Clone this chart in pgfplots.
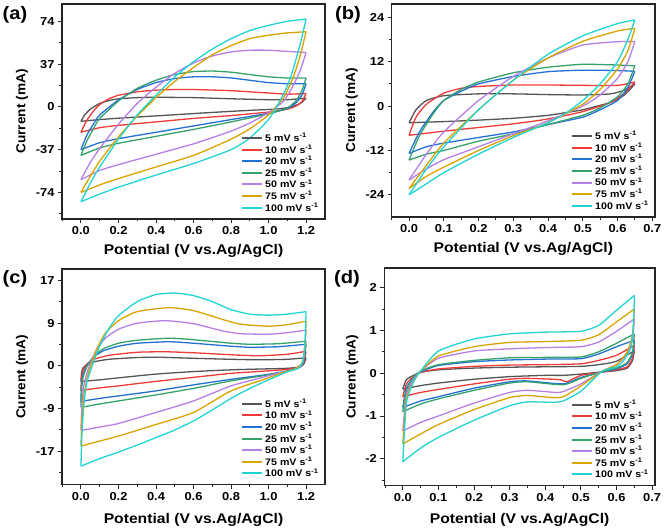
\documentclass[border=0pt]{standalone}
\usepackage{fontspec}
\setmainfont{Liberation Sans}[FakeStretch=1.12]
\newfontfamily\ylfont{Liberation Sans}[FakeStretch=1.05]
\usepackage{pgfplots}
\pgfplotsset{compat=1.18}
\definecolor{c5}{HTML}{555555}
\definecolor{c10}{HTML}{F03A3A}
\definecolor{c20}{HTML}{2470D4}
\definecolor{c25}{HTML}{35A26C}
\definecolor{c50}{HTML}{B57FE6}
\definecolor{c75}{HTML}{D9A300}
\definecolor{c100}{HTML}{22D3D3}

\pgfplotsset{
  cv/.style={
    scale only axis, anchor=north west,
    axis line style={line width=1.1pt, black!85},
    tick style={line width=0.9pt, black!85},
    major tick length=4pt, minor tick length=2.5pt,
    tick align=outside, xtick pos=bottom, ytick pos=left,
    ticklabel style={font=\fontsize{11.5}{13}\selectfont\bfseries},
    /pgf/number format/assume math mode=true,
    xticklabel style={/pgf/number format/.cd, fixed, fixed zerofill, precision=1},
    xlabel={Potential (V vs.Ag/AgCl)},
    ylabel={Current (mA)},
    every axis x label/.style={at={(rel axis cs:0.5,0)}, anchor=center, yshift=-32pt,
      font=\fontsize{14}{16}\selectfont\bfseries},
    every axis y label/.style={at={(rel axis cs:0,0.5)}, xshift=-40pt, rotate=90, anchor=center,
      font=\ylfont\fontsize{13}{14}\selectfont\bfseries},
    legend style={draw=none, fill=none, font=\fontsize{9.5}{10.5}\selectfont\bfseries,
      row sep=-2.3pt, anchor=south east, at={(0.995,0.01)}},
    legend cell align=left,
    legend image code/.code={\draw[line width=2pt] (0pt,0pt) -- (20pt,0pt);},
    every axis plot/.append style={line width=1.3pt, smooth, tension=0.35},
  },
}

\begin{document}
\begin{tikzpicture}
\path[use as bounding box] (0,0) rectangle (665pt,528pt);

% ---------------- (a)
\begin{axis}[cv, at={(62pt,524pt)}, width=263pt, height=215pt,
  xmin=-0.101, xmax=1.301, ymin=-97, ymax=89,
  xtick={0,0.2,0.4,0.6,0.8,1.0,1.2}, minor xtick={-0.1,0.1,0.3,0.5,0.7,0.9,1.1},
  ytick={-74,-37,0,37,74}, minor ytick={-92.5,-55.5,-18.5,18.5,55.5}]
\addplot[c5] coordinates {(0,-12.5) (0.02,-7) (0.05,-2) (0.1,3) (0.15,5.5) (0.2,7) (0.3,8) (0.4,8.3) (0.6,8) (0.8,7) (1.0,6.2) (1.1,6.2) (1.2,7.5)};
\addplot[c5, forget plot] coordinates {(1.2,7.5) (1.17,3) (1.12,0) (1.05,-1.8) (0.9,-3) (0.7,-4.8) (0.5,-6.8) (0.3,-8.8) (0.2,-9.8) (0.1,-11) (0,-12.5)};
\addplot[c10] coordinates {(0,-22) (0.03,-12) (0.07,-3) (0.1,2) (0.15,7) (0.2,10) (0.3,13) (0.4,14.5) (0.5,15) (0.6,15) (0.8,14) (1.0,12) (1.1,11) (1.2,11.5)};
\addplot[c10, forget plot] coordinates {(1.2,11.5) (1.18,5) (1.15,1) (1.1,-2) (1.0,-4.5) (0.8,-7.5) (0.6,-10) (0.4,-13) (0.2,-16) (0.1,-18) (0,-22)};
\addplot[c20] coordinates {(0,-37) (0.03,-25) (0.07,-14) (0.1,-7) (0.2,6) (0.3,15) (0.4,21) (0.5,24.5) (0.6,26) (0.7,26) (0.8,25) (0.9,23) (1.0,21) (1.1,20) (1.2,20)};
\addplot[c20, forget plot] coordinates {(1.2,20) (1.18,11) (1.15,4) (1.1,-1.5) (1.0,-5.5) (0.8,-11) (0.6,-16.5) (0.4,-22) (0.2,-27.5) (0.1,-31) (0,-37)};
\addplot[c25] coordinates {(0,-42) (0.03,-30) (0.07,-18) (0.1,-10) (0.2,5) (0.3,16) (0.4,23) (0.5,28) (0.6,30.5) (0.7,31) (0.8,30) (0.9,28) (1.0,26) (1.1,25) (1.2,25)};
\addplot[c25, forget plot] coordinates {(1.2,25) (1.18,15) (1.15,6) (1.1,-1) (1.0,-6) (0.8,-13) (0.6,-19.5) (0.4,-25.5) (0.2,-31.5) (0.1,-35.5) (0,-42)};
\addplot[c50] coordinates {(0,-63) (0.05,-48) (0.1,-36) (0.2,-15) (0.3,3) (0.4,17) (0.5,29) (0.6,38) (0.7,44) (0.8,47.5) (0.9,49) (1.0,49) (1.1,48) (1.2,47)};
\addplot[c50, forget plot] coordinates {(1.2,47) (1.17,32) (1.13,18) (1.08,5) (1.0,-5) (0.9,-14) (0.8,-21) (0.6,-32) (0.4,-41) (0.2,-50) (0.1,-55) (0,-63)};
\addplot[c75] coordinates {(0,-74) (0.05,-60) (0.1,-47) (0.2,-26) (0.3,-8) (0.4,8) (0.5,22) (0.6,34) (0.7,45) (0.8,53) (0.9,59) (1.0,62) (1.1,64) (1.2,65)};
\addplot[c75, forget plot] coordinates {(1.2,65) (1.17,45) (1.13,25) (1.08,8) (1.0,-7) (0.9,-19) (0.8,-28) (0.6,-42) (0.4,-52) (0.2,-62) (0.1,-67.5) (0,-74)};
\addplot[c100] coordinates {(0,-82) (0.05,-66) (0.1,-52) (0.2,-28) (0.3,-7) (0.4,10) (0.5,26) (0.6,39) (0.7,50) (0.8,59) (0.9,66) (1.0,70.5) (1.1,74) (1.2,76)};
\addplot[c100, forget plot] coordinates {(1.2,76) (1.17,55) (1.13,32) (1.1,18) (1.05,2) (1.0,-11) (0.9,-27) (0.8,-37) (0.6,-49) (0.4,-59) (0.2,-69.5) (0.1,-75.5) (0,-82)};
\legend{5 mV s\textsuperscript{-1}, 10 mV s\textsuperscript{-1}, 20 mV s\textsuperscript{-1}, 25 mV s\textsuperscript{-1}, 50 mV s\textsuperscript{-1}, 75 mV s\textsuperscript{-1}, 100 mV s\textsuperscript{-1}}
\end{axis}

% ---------------- (b)
\begin{axis}[cv, at={(391.7pt,524pt)}, width=263.3pt, height=213pt,
  xmin=-0.05, xmax=0.708, ymin=-30, ymax=27.6,
  xtick={0,0.1,0.2,0.3,0.4,0.5,0.6,0.7}, minor xtick={-0.05,0.05,0.15,0.25,0.35,0.45,0.55,0.65},
  ytick={-24,-12,0,12,24}, minor ytick={-18,-6,6,18}]
\addplot[c5] coordinates {(0,-4.5) (0.02,-1) (0.05,1.5) (0.1,2.8) (0.2,3.3) (0.3,3.3) (0.4,3.1) (0.5,3) (0.58,3.3) (0.62,4.3) (0.65,6)};
\addplot[c5, forget plot] coordinates {(0.65,6) (0.62,3) (0.58,1) (0.5,-1) (0.4,-2.5) (0.3,-3.3) (0.2,-3.8) (0.1,-4.2) (0,-4.5)};
\addplot[c10] coordinates {(0,-7.9) (0.02,-3) (0.05,0.5) (0.1,3.5) (0.15,4.8) (0.2,5.3) (0.3,5.7) (0.4,5.7) (0.5,5.6) (0.6,5.6) (0.65,6.5)};
\addplot[c10, forget plot] coordinates {(0.65,6.5) (0.62,3.5) (0.58,1) (0.5,-1.5) (0.4,-3.5) (0.3,-4.8) (0.2,-5.8) (0.1,-6.8) (0,-7.9)};
\addplot[c20] coordinates {(0,-12.8) (0.03,-7) (0.07,-1.5) (0.1,1.5) (0.15,4) (0.2,6) (0.3,8) (0.4,9.3) (0.5,9.7) (0.6,9.6) (0.65,9.4)};
\addplot[c20, forget plot] coordinates {(0.65,9.4) (0.63,5) (0.6,1.5) (0.55,-1) (0.5,-3) (0.4,-5) (0.3,-7) (0.2,-8.5) (0.1,-10) (0.05,-11) (0,-12.8)};
\addplot[c25] coordinates {(0,-14.6) (0.03,-8) (0.07,-2) (0.1,1.5) (0.15,4.5) (0.2,6.5) (0.3,9) (0.4,10.5) (0.5,11.3) (0.6,11.1) (0.65,10.9)};
\addplot[c25, forget plot] coordinates {(0.65,10.9) (0.63,6) (0.6,2.5) (0.55,-0.5) (0.5,-2.5) (0.4,-5) (0.3,-7.5) (0.2,-9.5) (0.1,-12) (0.05,-13) (0,-14.6)};
\addplot[c50] coordinates {(0,-20) (0.05,-13) (0.1,-7) (0.2,1.5) (0.3,8) (0.4,13) (0.5,16.5) (0.6,17.4) (0.65,17.4)};
\addplot[c50, forget plot] coordinates {(0.65,17.4) (0.63,12) (0.6,7.5) (0.55,3) (0.5,0) (0.4,-4) (0.3,-7.5) (0.2,-11) (0.1,-14.5) (0.05,-17) (0,-20)};
\addplot[c75] coordinates {(0,-22.3) (0.05,-16) (0.1,-10) (0.2,-1) (0.3,7) (0.4,13) (0.5,17.5) (0.6,20.3) (0.65,21)};
\addplot[c75, forget plot] coordinates {(0.65,21) (0.63,15) (0.6,10) (0.55,4.5) (0.5,0.5) (0.4,-4.5) (0.3,-8) (0.2,-12) (0.1,-16.5) (0.05,-19) (0,-22.3)};
\addplot[c100] coordinates {(0,-24) (0.05,-17) (0.1,-11) (0.2,-1) (0.3,7) (0.4,14) (0.5,19) (0.6,22.3) (0.65,23.3)};
\addplot[c100, forget plot] coordinates {(0.65,23.3) (0.63,18) (0.6,12) (0.55,6) (0.5,1.5) (0.45,-2) (0.4,-4.5) (0.3,-8.5) (0.2,-13) (0.1,-18) (0.05,-21) (0,-24)};
\legend{5 mV s\textsuperscript{-1}, 10 mV s\textsuperscript{-1}, 20 mV s\textsuperscript{-1}, 25 mV s\textsuperscript{-1}, 50 mV s\textsuperscript{-1}, 75 mV s\textsuperscript{-1}, 100 mV s\textsuperscript{-1}}
\end{axis}

% ---------------- (c)
\begin{axis}[cv, at={(62pt,259pt)}, width=263pt, height=215.7pt,
  xmin=-0.101, xmax=1.301, ymin=-23.7, ymax=19.3,
  xlabel style={yshift=-3pt},
  xtick={0,0.2,0.4,0.6,0.8,1.0,1.2}, minor xtick={-0.1,0.1,0.3,0.5,0.7,0.9,1.1},
  ytick={-17,-8.5,0,8.5,17}, yticklabels={-17,-9,0,9,17},
  minor ytick={-21.25,-12.75,-4.25,4.25,12.75}]
\addplot[c5] coordinates {(0,-3.1) (0.003,-1.5) (0.01,-0.5) (0.03,0.2) (0.07,0.8) (0.15,1.3) (0.3,1.65) (0.43,1.7) (0.6,1.5) (0.8,1.3) (0.95,1.2) (1.1,1.3) (1.2,1.6)};
\addplot[c5, forget plot] coordinates {(1.2,1.6) (1.19,0.5) (1.17,-0.2) (1.1,-0.5) (1.0,-0.6) (0.8,-0.8) (0.6,-1.15) (0.4,-1.65) (0.2,-2.4) (0.1,-2.8) (0,-3.1)};
\addplot[c10] coordinates {(0,-4.9) (0.003,-2.5) (0.01,-1) (0.03,0.3) (0.07,1.3) (0.15,2.1) (0.3,2.7) (0.45,2.8) (0.6,2.6) (0.8,2.2) (0.95,2.0) (1.1,2.3) (1.2,2.9)};
\addplot[c10, forget plot] coordinates {(1.2,2.9) (1.19,1) (1.17,-0.2) (1.1,-0.7) (1.0,-1.0) (0.8,-1.5) (0.6,-2.3) (0.4,-3.1) (0.2,-4.0) (0.1,-4.4) (0,-4.9)};
\addplot[c20] coordinates {(0,-7.1) (0.003,-4) (0.01,-2) (0.03,0) (0.07,1.8) (0.12,3.0) (0.2,3.9) (0.3,4.5) (0.47,4.8) (0.6,4.5) (0.8,3.9) (0.9,3.7) (1.05,3.8) (1.2,4.3)};
\addplot[c20, forget plot] coordinates {(1.2,4.3) (1.19,1.5) (1.17,-0.2) (1.1,-1.0) (1.0,-1.7) (0.8,-2.7) (0.6,-3.8) (0.4,-5.0) (0.2,-6.0) (0.1,-6.5) (0,-7.1)};
\addplot[c25] coordinates {(0,-8.3) (0.003,-5) (0.01,-2.5) (0.03,-0.3) (0.07,2) (0.12,3.4) (0.2,4.5) (0.3,5.1) (0.47,5.5) (0.6,5.2) (0.8,4.5) (0.9,4.3) (1.05,4.4) (1.2,4.9)};
\addplot[c25, forget plot] coordinates {(1.2,4.9) (1.19,2) (1.17,0) (1.1,-1.1) (1.0,-1.8) (0.8,-3.0) (0.6,-4.5) (0.4,-5.8) (0.2,-7.0) (0.1,-7.6) (0,-8.3)};
\addplot[c50] coordinates {(0,-12.9) (0.005,-8) (0.015,-4) (0.04,-0.5) (0.08,3) (0.13,5.5) (0.2,7.3) (0.3,8.5) (0.45,9.0) (0.6,8.4) (0.75,7.0) (0.85,6.4) (1.0,6.3) (1.1,6.6) (1.2,7.1)};
\addplot[c50, forget plot] coordinates {(1.2,7.1) (1.19,3) (1.18,0.5) (1.13,-0.8) (1.07,-1.3) (1.0,-2.0) (0.8,-4.0) (0.6,-7.0) (0.4,-9.3) (0.2,-11.5) (0.1,-12.2) (0,-12.9)};
\addplot[c75] coordinates {(0,-16) (0.005,-11) (0.015,-6) (0.04,-1.5) (0.08,3) (0.13,6.5) (0.2,9) (0.3,10.8) (0.47,11.6) (0.6,11) (0.75,9.3) (0.85,8.3) (1.0,7.9) (1.1,8.2) (1.2,8.9)};
\addplot[c75, forget plot] coordinates {(1.2,8.9) (1.195,4) (1.18,0.5) (1.13,-0.8) (1.07,-1.4) (1.0,-2.4) (0.8,-5.0) (0.6,-9.3) (0.4,-11.7) (0.2,-14.0) (0.1,-15.0) (0,-16)};
\addplot[c100] coordinates {(0,-20) (0.005,-14) (0.015,-8) (0.03,-3.5) (0.06,0) (0.1,4) (0.15,7.5) (0.2,10) (0.3,12.8) (0.4,14.2) (0.5,14.5) (0.6,14) (0.7,12.8) (0.8,11.2) (0.9,10.3) (1.0,10.1) (1.1,10.3) (1.2,10.8)};
\addplot[c100, forget plot] coordinates {(1.2,10.8) (1.195,5) (1.185,1) (1.16,-0.5) (1.1,-1.2) (1.0,-2.8) (0.9,-4.5) (0.8,-6.5) (0.7,-8.8) (0.6,-11) (0.5,-12.8) (0.4,-14.3) (0.3,-15.8) (0.2,-17.2) (0.1,-18.5) (0,-20)};
\legend{5 mV s\textsuperscript{-1}, 10 mV s\textsuperscript{-1}, 20 mV s\textsuperscript{-1}, 25 mV s\textsuperscript{-1}, 50 mV s\textsuperscript{-1}, 75 mV s\textsuperscript{-1}, 100 mV s\textsuperscript{-1}}
\end{axis}

% ---------------- (d)
\begin{axis}[cv, at={(384.3pt,260pt)}, width=270.7pt, height=217.7pt,
  xmin=-0.052, xmax=0.708, ymin=-2.63, ymax=2.46,
  xlabel style={yshift=-2pt}, ylabel style={yshift=-8pt},
  xtick={0,0.1,0.2,0.3,0.4,0.5,0.6,0.7}, minor xtick={-0.05,0.05,0.15,0.25,0.35,0.45,0.55,0.65},
  ytick={-2,-1,0,1,2}, minor ytick={-2.5,-1.5,-0.5,0.5,1.5}]
\addplot[c5] coordinates {(0,-0.37) (0.01,-0.15) (0.03,-0.05) (0.05,0.02) (0.1,0.08) (0.2,0.12) (0.3,0.14) (0.4,0.15) (0.5,0.16) (0.55,0.2) (0.6,0.28) (0.65,0.53)};
\addplot[c5, forget plot] coordinates {(0.65,0.53) (0.645,0.3) (0.63,0.12) (0.6,0.06) (0.56,0.03) (0.5,-0.02) (0.45,-0.05) (0.4,-0.05) (0.3,-0.08) (0.2,-0.14) (0.1,-0.23) (0.05,-0.29) (0,-0.37)};
\addplot[c10] coordinates {(0,-0.55) (0.01,-0.25) (0.03,-0.08) (0.05,0.02) (0.1,0.1) (0.2,0.16) (0.3,0.19) (0.4,0.2) (0.5,0.22) (0.55,0.3) (0.6,0.42) (0.65,0.65)};
\addplot[c10, forget plot] coordinates {(0.65,0.65) (0.645,0.35) (0.63,0.15) (0.6,0.08) (0.56,0.03) (0.5,-0.05) (0.46,-0.2) (0.44,-0.15) (0.35,-0.12) (0.3,-0.14) (0.2,-0.25) (0.1,-0.38) (0.05,-0.45) (0,-0.55)};
\addplot[c20] coordinates {(0,-0.8) (0.01,-0.35) (0.03,-0.1) (0.05,0.03) (0.1,0.18) (0.2,0.27) (0.3,0.31) (0.4,0.33) (0.5,0.34) (0.55,0.45) (0.6,0.62) (0.65,0.77)};
\addplot[c20, forget plot] coordinates {(0.65,0.77) (0.645,0.45) (0.63,0.22) (0.6,0.1) (0.56,0.03) (0.5,-0.1) (0.45,-0.25) (0.35,-0.18) (0.3,-0.2) (0.2,-0.35) (0.1,-0.55) (0.05,-0.65) (0,-0.8)};
\addplot[c25] coordinates {(0,-0.9) (0.01,-0.4) (0.03,-0.1) (0.05,0.05) (0.1,0.2) (0.2,0.3) (0.3,0.36) (0.4,0.37) (0.5,0.38) (0.55,0.5) (0.6,0.7) (0.65,0.92)};
\addplot[c25, forget plot] coordinates {(0.65,0.92) (0.645,0.5) (0.63,0.25) (0.6,0.12) (0.56,0.04) (0.5,-0.12) (0.45,-0.27) (0.35,-0.2) (0.3,-0.23) (0.2,-0.4) (0.1,-0.6) (0.05,-0.72) (0,-0.9)};
\addplot[c50] coordinates {(0,-1.35) (0.01,-0.5) (0.03,-0.15) (0.05,0.05) (0.1,0.35) (0.2,0.52) (0.3,0.57) (0.4,0.6) (0.5,0.62) (0.55,0.73) (0.6,0.98) (0.65,1.27)};
\addplot[c50, forget plot] coordinates {(0.65,1.27) (0.645,0.8) (0.63,0.45) (0.6,0.2) (0.56,0.05) (0.5,-0.25) (0.45,-0.43) (0.43,-0.45) (0.35,-0.4) (0.3,-0.45) (0.2,-0.7) (0.1,-1.0) (0.05,-1.15) (0,-1.35)};
\addplot[c75] coordinates {(0,-1.65) (0.01,-0.6) (0.03,-0.2) (0.05,0.05) (0.1,0.4) (0.2,0.62) (0.3,0.72) (0.4,0.74) (0.5,0.77) (0.55,0.9) (0.6,1.2) (0.65,1.5)};
\addplot[c75, forget plot] coordinates {(0.65,1.5) (0.645,0.9) (0.63,0.5) (0.6,0.2) (0.56,0.05) (0.5,-0.3) (0.45,-0.55) (0.42,-0.57) (0.35,-0.52) (0.3,-0.57) (0.2,-0.85) (0.1,-1.2) (0.05,-1.42) (0,-1.65)};
\addplot[c100] coordinates {(0,-2.07) (0.01,-0.7) (0.03,-0.2) (0.045,0) (0.1,0.52) (0.2,0.8) (0.3,0.92) (0.4,0.96) (0.5,0.98) (0.55,1.12) (0.6,1.47) (0.65,1.82)};
\addplot[c100, forget plot] coordinates {(0.65,1.82) (0.648,1.2) (0.64,0.6) (0.62,0.3) (0.6,0.15) (0.56,0.05) (0.5,-0.42) (0.45,-0.65) (0.42,-0.68) (0.35,-0.67) (0.3,-0.76) (0.2,-1.1) (0.1,-1.5) (0.05,-1.75) (0,-2.07)};
\legend{5 mV s\textsuperscript{-1}, 10 mV s\textsuperscript{-1}, 20 mV s\textsuperscript{-1}, 25 mV s\textsuperscript{-1}, 50 mV s\textsuperscript{-1}, 75 mV s\textsuperscript{-1}, 100 mV s\textsuperscript{-1}}
\end{axis}

\node[font=\fontsize{18}{20}\selectfont\bfseries] at (15pt,513pt) {(a)};
\node[font=\fontsize{18}{20}\selectfont\bfseries] at (348pt,513pt) {(b)};
\node[font=\fontsize{18}{20}\selectfont\bfseries] at (15pt,249pt) {(c)};
\node[font=\fontsize{18}{20}\selectfont\bfseries] at (347pt,249pt) {(d)};
\end{tikzpicture}
\end{document}
